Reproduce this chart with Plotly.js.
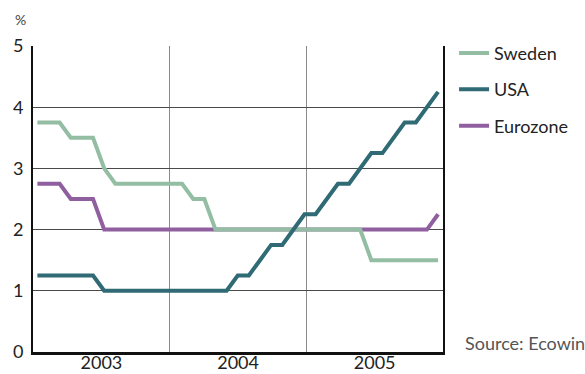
<!DOCTYPE html>
<html>
<head>
<meta charset="utf-8">
<script src="https://cdn.plot.ly/plotly-3.0.1.min.js"></script>
<style>
  html, body { margin: 0; padding: 0; background: #fff; }
  #chart { width: 585px; height: 374px; }
</style>
</head>
<body>
<div id="chart"></div>
<script>
// Monthly policy rates, end of month, Dec 2002 (index 0) to Dec 2005 (index 36)
const monthIndex = Array.from({length: 37}, (_, i) => i);

const sweden = [
  3.75, 3.75, 3.75, 3.5, 3.5, 3.5, 3.0, 2.75, 2.75, 2.75, 2.75, 2.75, 2.75,
  2.75, 2.5, 2.5, 2.0, 2.0, 2.0, 2.0, 2.0, 2.0, 2.0, 2.0, 2.0,
  2.0, 2.0, 2.0, 2.0, 2.0, 1.5, 1.5, 1.5, 1.5, 1.5, 1.5, 1.5
];
const usa = [
  1.25, 1.25, 1.25, 1.25, 1.25, 1.25, 1.0, 1.0, 1.0, 1.0, 1.0, 1.0, 1.0,
  1.0, 1.0, 1.0, 1.0, 1.0, 1.25, 1.25, 1.5, 1.75, 1.75, 2.0, 2.25,
  2.25, 2.5, 2.75, 2.75, 3.0, 3.25, 3.25, 3.5, 3.75, 3.75, 4.0, 4.25
];
const eurozone = [
  2.75, 2.75, 2.75, 2.5, 2.5, 2.5, 2.0, 2.0, 2.0, 2.0, 2.0, 2.0, 2.0,
  2.0, 2.0, 2.0, 2.0, 2.0, 2.0, 2.0, 2.0, 2.0, 2.0, 2.0, 2.0,
  2.0, 2.0, 2.0, 2.0, 2.0, 2.0, 2.0, 2.0, 2.0, 2.0, 2.0, 2.25
];

const yearLabels = ['2003', '2004', '2005'];
const yearLabelPos = [5.75, 18.03, 30.3];
const yearBoundaries = [11.89, 24.17];

const colors = { sweden: '#93bea3', usa: '#2f6a75', eurozone: '#8f5f9f' };
const FONT = 'Lato, "Open Sans", sans-serif';

function series(name, values, color, rank) {
  return {
    type: 'scatter', mode: 'lines', name: name,
    x: monthIndex, y: values,
    line: { color: color, width: 4 },
    legendgroup: name, legendrank: rank,
    hoverinfo: 'skip'
  };
}

// Eurozone drawn first, USA last so it sits on top
const data = [
  series('Eurozone', eurozone, colors.eurozone, 3),
  series('Sweden', sweden, colors.sweden, 1),
  series('USA', usa, colors.usa, 2)
];

const layout = {
  width: 585, height: 374,
  margin: { l: 33, r: 142, t: 46, b: 22, pad: 0 },
  paper_bgcolor: '#ffffff', plot_bgcolor: '#ffffff',
  font: { family: FONT, color: '#222', size: 18 },
  showlegend: true,
  legend: {
    x: 1.027, xanchor: 'left', y: 1.037, yanchor: 'top',
    traceorder: 'grouped', tracegroupgap: 10,
    font: { family: FONT, size: 18, color: '#222' },
    bgcolor: 'rgba(0,0,0,0)', borderwidth: 0
  },
  xaxis: {
    range: [-0.395, 36.44], fixedrange: true,
    tickmode: 'array', tickvals: yearLabelPos, ticktext: yearLabels,
    ticks: '', showgrid: false, zeroline: false,
    showline: true, linecolor: '#111', linewidth: 3, mirror: false,
    tickfont: { family: FONT, size: 18, color: '#222' },
    ticklabelstandoff: -8,
    minor: { tickmode: 'array', tickvals: yearBoundaries, showgrid: true,
             gridcolor: '#8a8a8a', gridwidth: 1.5, ticks: '' }
  },
  yaxis: {
    range: [0, 5], dtick: 1, tick0: 0, fixedrange: true,
    ticks: '', showgrid: true, gridcolor: '#4a4a4a', gridwidth: 1.3,
    zeroline: false, showline: true, linecolor: '#111', linewidth: 2, mirror: true,
    tickfont: { family: FONT, size: 18, color: '#222' },
    ticklabelstandoff: 4
  },
  annotations: [
    { text: '%', xref: 'paper', yref: 'paper', x: -0.03, y: 1.088,
      xanchor: 'center', yanchor: 'middle', showarrow: false,
      font: { family: FONT, size: 14, color: '#444' } },
    { text: 'Source: Ecowin', xref: 'paper', yref: 'paper', x: 1.048, y: 0.029,
      xanchor: 'left', yanchor: 'middle', showarrow: false,
      font: { family: FONT, size: 18, color: '#555' } }
  ]
};

Plotly.newPlot('chart', data, layout, { displayModeBar: false, staticPlot: true });
</script>
</body>
</html>
